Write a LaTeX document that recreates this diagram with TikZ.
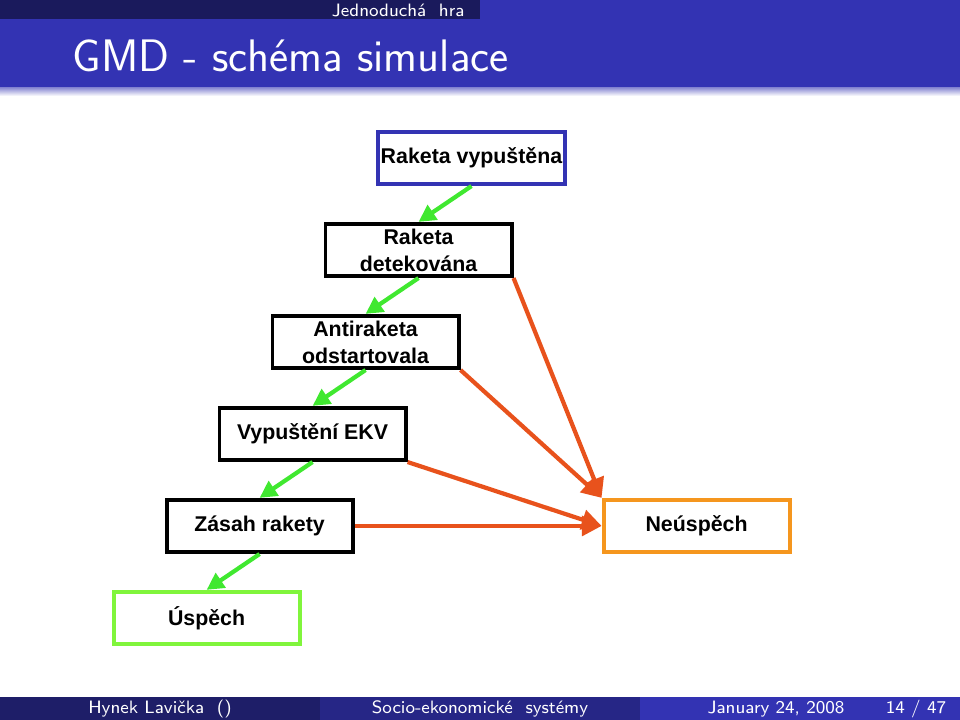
\documentclass[tikz,border=0pt]{standalone}
\usepackage{fontspec}
\newfontfamily\boxfont{Liberation Sans}
\usetikzlibrary{positioning,arrows.meta}

\definecolor{structblue}{RGB}{51,51,179}
\definecolor{headdark}{RGB}{26,26,92}
\definecolor{footdark}{RGB}{30,30,104}
\definecolor{footmid}{RGB}{38,38,134}
\definecolor{okgreen}{RGB}{64,232,48}
\definecolor{failred}{RGB}{232,82,28}
\definecolor{failorange}{RGB}{245,150,30}
\definecolor{winlime}{RGB}{128,245,60}

\begin{document}
\begin{tikzpicture}[
			x=0.3794pt,y=-0.3794pt,
			node distance=13.6pt,
			stage/.style={
				draw=black,
				line width=1.5pt,
				minimum width=70.6pt,
				minimum height=19.8pt,
				inner sep=0pt,
				align=center,
				font=\boxfont\bfseries\fontsize{8.1}{10.2}\selectfont
			},
			start/.style={stage,draw=structblue},
			win/.style={stage,draw=winlime},
			lose/.style={stage,draw=failorange},
			okarrow/.style={-{Triangle[length=6.5pt,width=6.5pt]},line width=1.6pt,draw=okgreen,fill=okgreen},
			failarrow/.style={-{Triangle[length=7.5pt,width=7.5pt]},line width=1.6pt,draw=failred,fill=failred},
			headtext/.style={text=white,font=\sffamily\fontsize{6.8}{8}\selectfont,inner sep=0pt},
			titletext/.style={text=white,font=\sffamily\fontsize{17.28}{20}\selectfont,inner sep=0pt}
			]
			
			% slide frame
			\useasboundingbox (0,0) rectangle (960,720);
			\fill[white] (0,0) rectangle (960,720);
			\fill[structblue] (0,0) rectangle (960,88);
			\fill[headdark] (0,0) rectangle (480,19);
			\shade[top color=structblue!55,bottom color=white] (0,88) rectangle (960,96);
			\fill[footdark] (0,697) rectangle (320,720);
			\fill[footmid] (320,697) rectangle (640,720);
			\fill[structblue] (640,697) rectangle (960,720);
			
			\node[headtext,anchor=east] (section) at (465,10) {Jednoduchá\ \ hra};
			\node[titletext,anchor=base west] (title) at (72,72) {GMD - schéma simulace};
			
			\node[headtext] (author) at (160,709) {Hynek Lavička\ \ ()};
			\node[headtext] (talk) at (480,709) {Socio-ekonomické\ \ systémy};
			\node[headtext] (date) at (776,709) {January 24, 2008};
			\node[headtext] (page) at (916,709) {14 / 47};
			
			% states
			\node[start] (vypustena) at (471.5,158) {Raketa vypuštěna};
			\node[stage,below=of vypustena,xshift=-20.1pt] (detekovana) {Raketa\\ detekována};
			\node[stage,below=of detekovana,xshift=-20.1pt] (odstart) {Antiraketa\\ odstartovala};
			\node[stage,below=of odstart,xshift=-20.1pt] (ekv) {Vypuštění EKV};
			\node[stage,below=of ekv,xshift=-20.1pt] (zasah) {Zásah rakety};
			\node[win,below=of zasah,xshift=-20.1pt] (uspech) {Úspěch};
			\node[lose,right=93.7pt of zasah] (neuspech) {Neúspěch};
			
			\draw[okarrow] (vypustena.south)--(detekovana.north);
			\draw[okarrow] (detekovana.south)--(odstart.north);
			\draw[okarrow] (odstart.south)--(ekv.north);
			\draw[okarrow] (ekv.south)--(zasah.north);
			\draw[okarrow] (zasah.south)--(uspech.north);
			
			\draw[failarrow] (detekovana.south east)--(neuspech.north west);
			\draw[failarrow] (odstart.south east)--(neuspech.north west);
			\draw[failarrow] (ekv.south east)--(neuspech.west);
			\draw[failarrow] (zasah.east)--(neuspech.west);
			
		\end{tikzpicture}
\end{document}
